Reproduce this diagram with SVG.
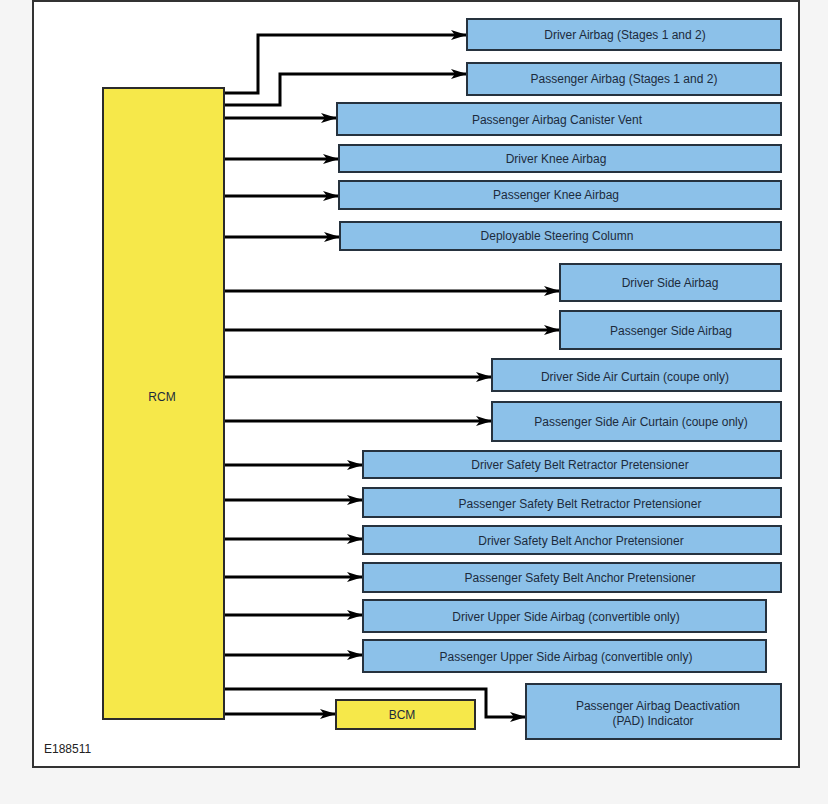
<svg xmlns="http://www.w3.org/2000/svg" width="828" height="804" viewBox="0 0 828 804">
<defs>
<style>
.bg{fill:#f5f5f5}
.frame{fill:#ffffff;stroke:#333333;stroke-width:2}
.ecu{fill:#f6e84a;stroke:#2b2b2b;stroke-width:2}
.box{fill:#8cc1e9;stroke:#26323e;stroke-width:2}
.t{font-family:"Liberation Sans",Arial,sans-serif;font-size:12px;fill:#1c2b3c;text-anchor:middle}
.lbl{font-family:"Liberation Sans",Arial,sans-serif;font-size:12px;fill:#222222}
.c{fill:none;stroke:#000000;stroke-width:3;marker-end:url(#ah)}
</style>
<marker id="ah" markerUnits="userSpaceOnUse" markerWidth="16" markerHeight="10" refX="15" refY="5" orient="auto">
<path d="M0,0 L16,5 L0,10 L4,5 Z" fill="#000000"/>
</marker>
</defs>
<rect class="bg" x="0" y="0" width="828" height="804"/>
<rect class="frame" x="33" y="1" width="766" height="766"/>

<g id="connectors">
<path class="c" d="M224,93 H258 V35 H466"/>
<path class="c" d="M224,105 H280 V74 H466"/>
<path class="c" d="M224,118 H336"/>
<path class="c" d="M224,159 H338"/>
<path class="c" d="M224,196 H338"/>
<path class="c" d="M224,237 H339"/>
<path class="c" d="M224,291 H559"/>
<path class="c" d="M224,330 H559"/>
<path class="c" d="M224,377 H491"/>
<path class="c" d="M224,421 H491"/>
<path class="c" d="M224,465 H362"/>
<path class="c" d="M224,500 H362"/>
<path class="c" d="M224,539 H362"/>
<path class="c" d="M224,577 H362"/>
<path class="c" d="M224,615 H362"/>
<path class="c" d="M224,655 H362"/>
<path class="c" d="M224,689 H486 V717 H525"/>
<path class="c" d="M224,714 H335"/>
</g>

<g id="rcm"><rect class="ecu" x="103" y="88" width="121" height="631"/><text class="t" x="162" y="401">RCM</text></g>
<g id="bcm"><rect class="ecu" x="336" y="700" width="139" height="29"/><text class="t" x="402" y="719">BCM</text></g>

<g id="n1"><rect class="box" x="467" y="19" width="314" height="31"/><text class="t" x="625" y="39">Driver Airbag (Stages 1 and 2)</text></g>
<g id="n2"><rect class="box" x="467" y="63" width="314" height="32"/><text class="t" x="624" y="83">Passenger Airbag (Stages 1 and 2)</text></g>
<g id="n3"><rect class="box" x="337" y="103" width="444" height="32"/><text class="t" x="557" y="124">Passenger Airbag Canister Vent</text></g>
<g id="n4"><rect class="box" x="339" y="145" width="442" height="27"/><text class="t" x="556" y="163">Driver Knee Airbag</text></g>
<g id="n5"><rect class="box" x="339" y="181" width="442" height="28"/><text class="t" x="556" y="199">Passenger Knee Airbag</text></g>
<g id="n6"><rect class="box" x="340" y="222" width="441" height="28"/><text class="t" x="557" y="240">Deployable Steering Column</text></g>
<g id="n7"><rect class="box" x="560" y="264" width="221" height="37"/><text class="t" x="670" y="287">Driver Side Airbag</text></g>
<g id="n8"><rect class="box" x="560" y="311" width="221" height="38"/><text class="t" x="671" y="335">Passenger Side Airbag</text></g>
<g id="n9"><rect class="box" x="492" y="359" width="289" height="32"/><text class="t" x="635" y="381">Driver Side Air Curtain (coupe only)</text></g>
<g id="n10"><rect class="box" x="492" y="402" width="289" height="39"/><text class="t" x="641" y="426">Passenger Side Air Curtain (coupe only)</text></g>
<g id="n11"><rect class="box" x="363" y="451" width="418" height="27"/><text class="t" x="580" y="469">Driver Safety Belt Retractor Pretensioner</text></g>
<g id="n12"><rect class="box" x="363" y="488" width="418" height="29"/><text class="t" x="580" y="508">Passenger Safety Belt Retractor Pretensioner</text></g>
<g id="n13"><rect class="box" x="363" y="526" width="418" height="28"/><text class="t" x="581" y="545">Driver Safety Belt Anchor Pretensioner</text></g>
<g id="n14"><rect class="box" x="363" y="563" width="418" height="29"/><text class="t" x="580" y="582">Passenger Safety Belt Anchor Pretensioner</text></g>
<g id="n15"><rect class="box" x="363" y="600" width="403" height="32"/><text class="t" x="566" y="621">Driver Upper Side Airbag (convertible only)</text></g>
<g id="n16"><rect class="box" x="363" y="640" width="403" height="32"/><text class="t" x="566" y="661">Passenger Upper Side Airbag (convertible only)</text></g>
<g id="n17"><rect class="box" x="526" y="684" width="255" height="55"/><text class="t" x="658" y="710">Passenger Airbag Deactivation</text><text class="t" x="653" y="725">(PAD) Indicator</text></g>

<text class="lbl" x="44" y="753">E188511</text>
</svg>
